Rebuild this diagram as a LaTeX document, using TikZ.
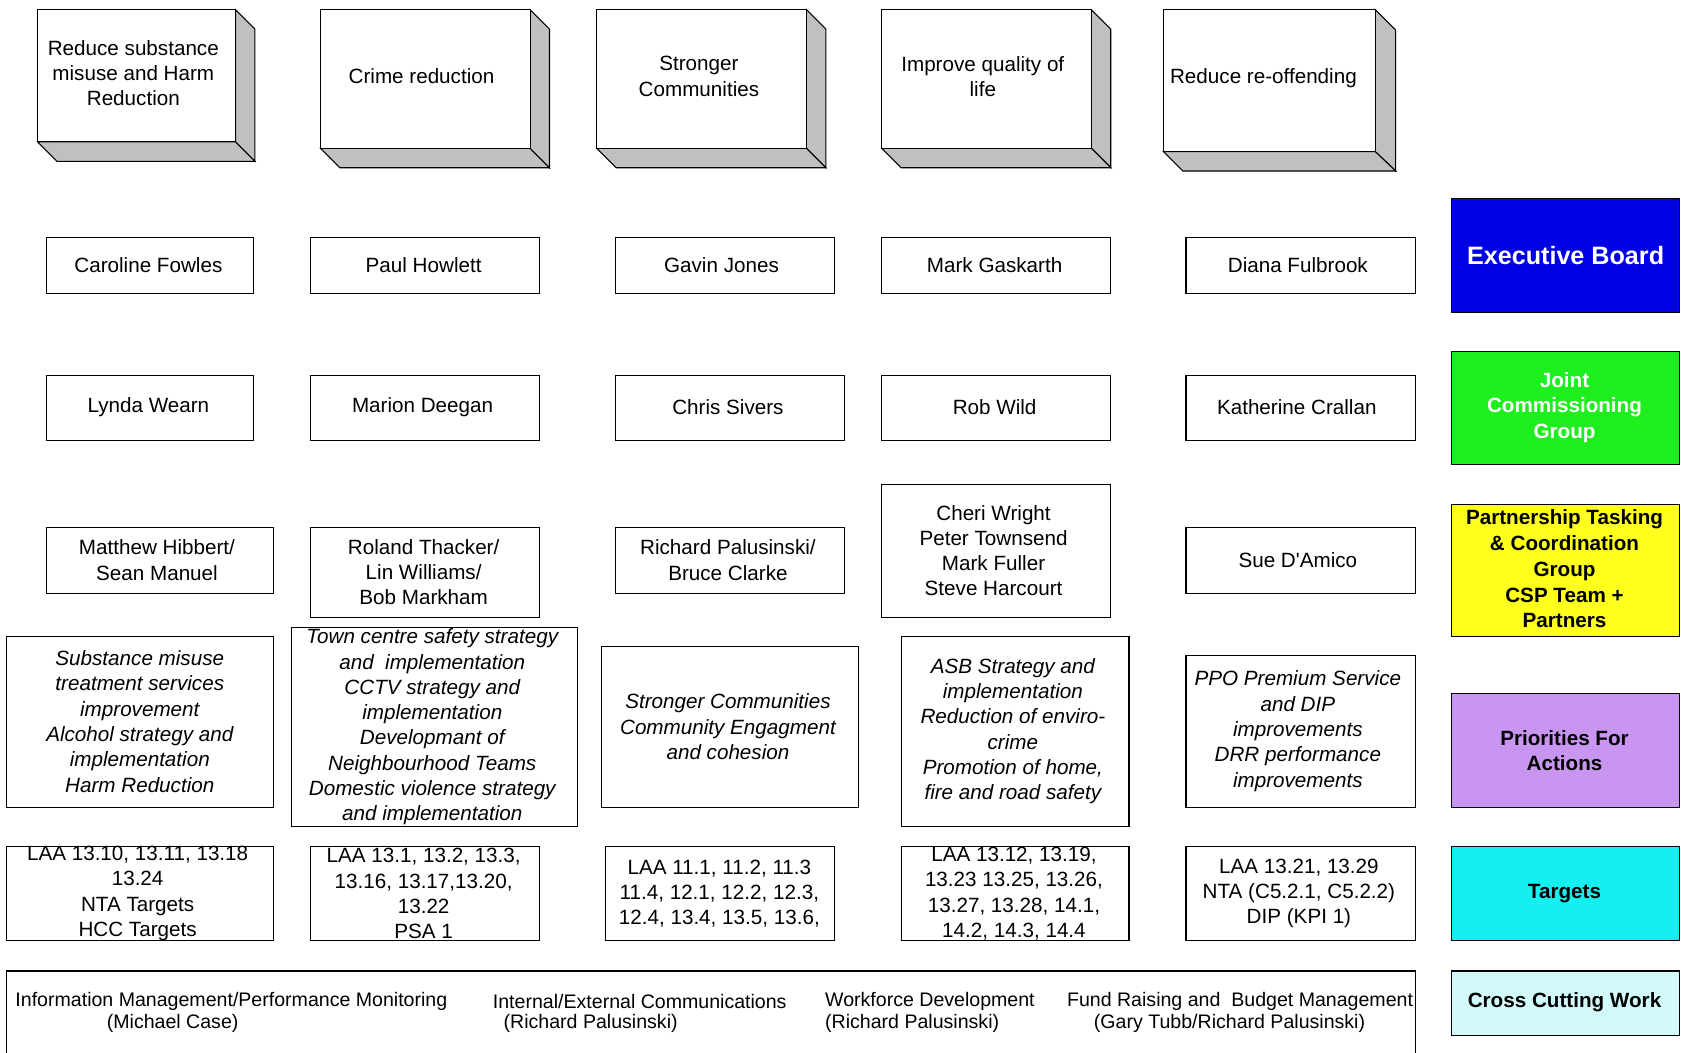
\documentclass[tikz,border=0pt]{standalone}
\usepackage{fontspec}
\setmainfont{Liberation Sans}
\definecolor{ExecBlue}{HTML}{0000E4}
\definecolor{JointGreen}{HTML}{1EEE1E}
\definecolor{PtcgYellow}{HTML}{FFFF1E}
\definecolor{PfaPurple}{HTML}{C896F0}
\definecolor{TargetCyan}{HTML}{14F0F0}
\definecolor{CrossCyan}{HTML}{D2FAFA}
\definecolor{SideGray}{HTML}{C0C0C0}
\tikzset{
  plain/.style={draw, line width=0.5pt},
  side/.style={draw, line width=0.5pt, fill=SideGray},
  txt/.style={font=\fontsize{9.6}{11.75}\selectfont, align=center, inner sep=0pt},
  itxt/.style={txt, font=\fontsize{9.6}{11.75}\selectfont\itshape},
  btxt/.style={font=\fontsize{9.6}{12}\selectfont\bfseries, align=center, inner sep=0pt},
  ctxt/.style={font=\fontsize{9.1}{10.5}\selectfont, anchor=west, inner sep=0pt}
}
\begin{document}
\begin{tikzpicture}[x=0.5pt, y=-0.5pt]
\useasboundingbox (0,0) rectangle (1568,979);

% aims (raised boxes)
\draw[side] (219,9) -- (237,27) -- (237,150) -- (219,132) -- cycle;
\draw[side] (35,132) -- (219,132) -- (237,150) -- (53,150) -- cycle;
\draw[plain, fill=white] (35,9) rectangle (219,132);
\node[txt] (aim1) at (124,68) {Reduce substance\\misuse and Harm\\Reduction};

\draw[side] (493,9) -- (511,27) -- (511,156) -- (493,138) -- cycle;
\draw[side] (298,138) -- (493,138) -- (511,156) -- (316,156) -- cycle;
\draw[plain, fill=white] (298,9) rectangle (493,138);
\node[txt] (aim2) at (392,71) {Crime reduction};

\draw[side] (750,9) -- (768,27) -- (768,156) -- (750,138) -- cycle;
\draw[side] (555,138) -- (750,138) -- (768,156) -- (573,156) -- cycle;
\draw[plain, fill=white] (555,9) rectangle (750,138);
\node[txt] (aim3) at (650,71) {Stronger\\Communities};

\draw[side] (1015,9) -- (1033,27) -- (1033,156) -- (1015,138) -- cycle;
\draw[side] (820,138) -- (1015,138) -- (1033,156) -- (838,156) -- cycle;
\draw[plain, fill=white] (820,9) rectangle (1015,138);
\node[txt] (aim4) at (914,71) {Improve quality of\\life};

\draw[side] (1279,9) -- (1298,28) -- (1298,159) -- (1279,141) -- cycle;
\draw[side] (1082,141) -- (1279,141) -- (1298,159) -- (1100,159) -- cycle;
\draw[plain, fill=white] (1082,9) rectangle (1279,141);
\node[txt] (aim5) at (1175,73) {Reduce re-offending};

% executive board row
\draw[plain] (43,221) rectangle (236,273);
\node[txt] (cf) at (138,247) {Caroline Fowles};
\draw[plain] (289,221) rectangle (502,273);
\node[txt] (ph) at (394,247) {Paul Howlett};
\draw[plain] (572,221) rectangle (776,273);
\node[txt] (gj) at (671,247) {Gavin Jones};
\draw[plain] (820,221) rectangle (1033,273);
\node[txt] (mg) at (925,247) {Mark Gaskarth};
\draw[plain] (1103,221) rectangle (1316,273);
\node[txt] (df) at (1207,247) {Diana Fulbrook};

% joint commissioning row
\draw[plain] (43,349) rectangle (236,410);
\node[txt] (lw) at (138,379) {Lynda Wearn};
\draw[plain] (289,349) rectangle (502,410);
\node[txt] (md) at (393,379) {Marion Deegan};
\draw[plain] (572,349) rectangle (785,410);
\node[txt] (cs) at (677,379) {Chris Sivers};
\draw[plain] (820,349) rectangle (1033,410);
\node[txt] (rw) at (925,379) {Rob Wild};
\draw[plain] (1103,349) rectangle (1316,410);
\node[txt] (kc) at (1206,379) {Katherine Crallan};

% tasking row
\draw[plain] (43,491) rectangle (254,552);
\node[txt] (mh) at (146,521) {Matthew Hibbert/\\Sean Manuel};
\draw[plain] (289,491) rectangle (502,574);
\node[txt] (rt) at (394,532) {Roland Thacker/\\Lin Williams/\\Bob Markham};
\draw[plain] (572,491) rectangle (785,552);
\node[txt] (rp) at (677,521) {Richard Palusinski/\\Bruce Clarke};
\draw[plain] (820,451) rectangle (1033,574);
\node[txt] (cw) at (924,512) {Cheri Wright\\Peter Townsend\\Mark Fuller\\Steve Harcourt};
\draw[plain] (1103,491) rectangle (1316,552);
\node[txt] (sd) at (1207,521) {Sue D\textquotesingle Amico};

% priorities row
\draw[plain] (6,592) rectangle (254,751);
\node[itxt] (pr1) at (130,671) {Substance misuse\\treatment services\\improvement\\Alcohol strategy and\\implementation\\Harm Reduction};
\draw[plain] (271,584) rectangle (537,769);
\node[itxt] (pr2) at (402,676) {Town centre safety strategy\\and~ implementation\\CCTV strategy and\\implementation\\Developmant of\\Neighbourhood Teams\\Domestic violence strategy\\and implementation};
\draw[plain] (559,601) rectangle (798,751);
\node[itxt] (pr3) at (677,676) {Stronger Communities\\Community Engagment\\and cohesion};
\draw[plain] (838,592) rectangle (1050,769);
\node[itxt] (pr4) at (942,680) {ASB Strategy and\\implementation\\Reduction of enviro-\\crime\\Promotion of home,\\fire and road safety};
\draw[plain] (1103,610) rectangle (1316,751);
\node[itxt] (pr5) at (1207,680) {PPO Premium Service\\and DIP\\improvements\\DRR performance\\improvements};

% targets row
\draw[plain] (6,787) rectangle (254,875);
\node[txt] (tg1) at (128,831) {LAA 13.10, 13.11, 13.18\\13.24\\NTA Targets\\HCC Targets};
\draw[plain] (289,787) rectangle (502,875);
\node[txt] (tg2) at (394,831) {LAA 13.1, 13.2, 13.3,\\13.16, 13.17,13.20,\\13.22\\PSA 1};
\draw[plain] (563,787) rectangle (776,875);
\node[txt] (tg3) at (669,831) {LAA 11.1, 11.2, 11.3\\11.4, 12.1, 12.2, 12.3,\\12.4, 13.4, 13.5, 13.6,};
\draw[plain] (838,787) rectangle (1050,875);
\node[txt] (tg4) at (943,831) {LAA 13.12, 13.19,\\13.23 13.25, 13.26,\\13.27, 13.28, 14.1,\\14.2, 14.3, 14.4};
\draw[plain] (1103,787) rectangle (1316,875);
\node[txt] (tg5) at (1208,831) {LAA 13.21, 13.29\\NTA (C5.2.1, C5.2.2)\\DIP (KPI 1)};

% cross cutting work
\draw[plain] (6,979) -- (6,903) -- (1316,903) -- (1316,979);
\node[ctxt] (im) at (14,931) {Information Management/Performance Monitoring};
\node[ctxt] (imby) at (99,952) {(Michael Case)};
\node[ctxt] (ie) at (458,931) {Internal/External Communications};
\node[ctxt] (ieby) at (468,952) {(Richard Palusinski)};
\node[ctxt] (wd) at (767,931) {Workforce Development};
\node[ctxt] (wdby) at (767,952) {(Richard Palusinski)};
\node[ctxt] (fr) at (992,931) {Fund Raising and~ Budget Management};
\node[ctxt] (frby) at (1017,952) {(Gary Tubb/Richard Palusinski)};

% key on the right
\draw[plain, fill=ExecBlue] (1350,185) rectangle (1562,291);
\node[btxt, text=white, font=\fontsize{11.7}{14}\selectfont\bfseries] (eb) at (1456,238) {Executive Board};
\draw[plain, fill=JointGreen] (1350,327) rectangle (1562,432);
\node[btxt, text=white] (jcg) at (1455,379) {Joint\\Commissioning\\Group};
\draw[plain, fill=PtcgYellow] (1350,469) rectangle (1562,592);
\node[btxt] (ptcg) at (1455,529) {Partnership Tasking\\\& Coordination\\Group\\CSP Team +\\Partners};
\draw[plain, fill=PfaPurple] (1350,645) rectangle (1562,751);
\node[btxt] (pfa) at (1455,698) {Priorities For\\Actions};
\draw[plain, fill=TargetCyan] (1350,787) rectangle (1562,875);
\node[btxt] (tgt) at (1455,831) {Targets};
\draw[plain, fill=CrossCyan] (1350,903) rectangle (1562,963);
\node[btxt] (ccw) at (1455,932) {Cross Cutting Work};
\end{tikzpicture}
\end{document}
